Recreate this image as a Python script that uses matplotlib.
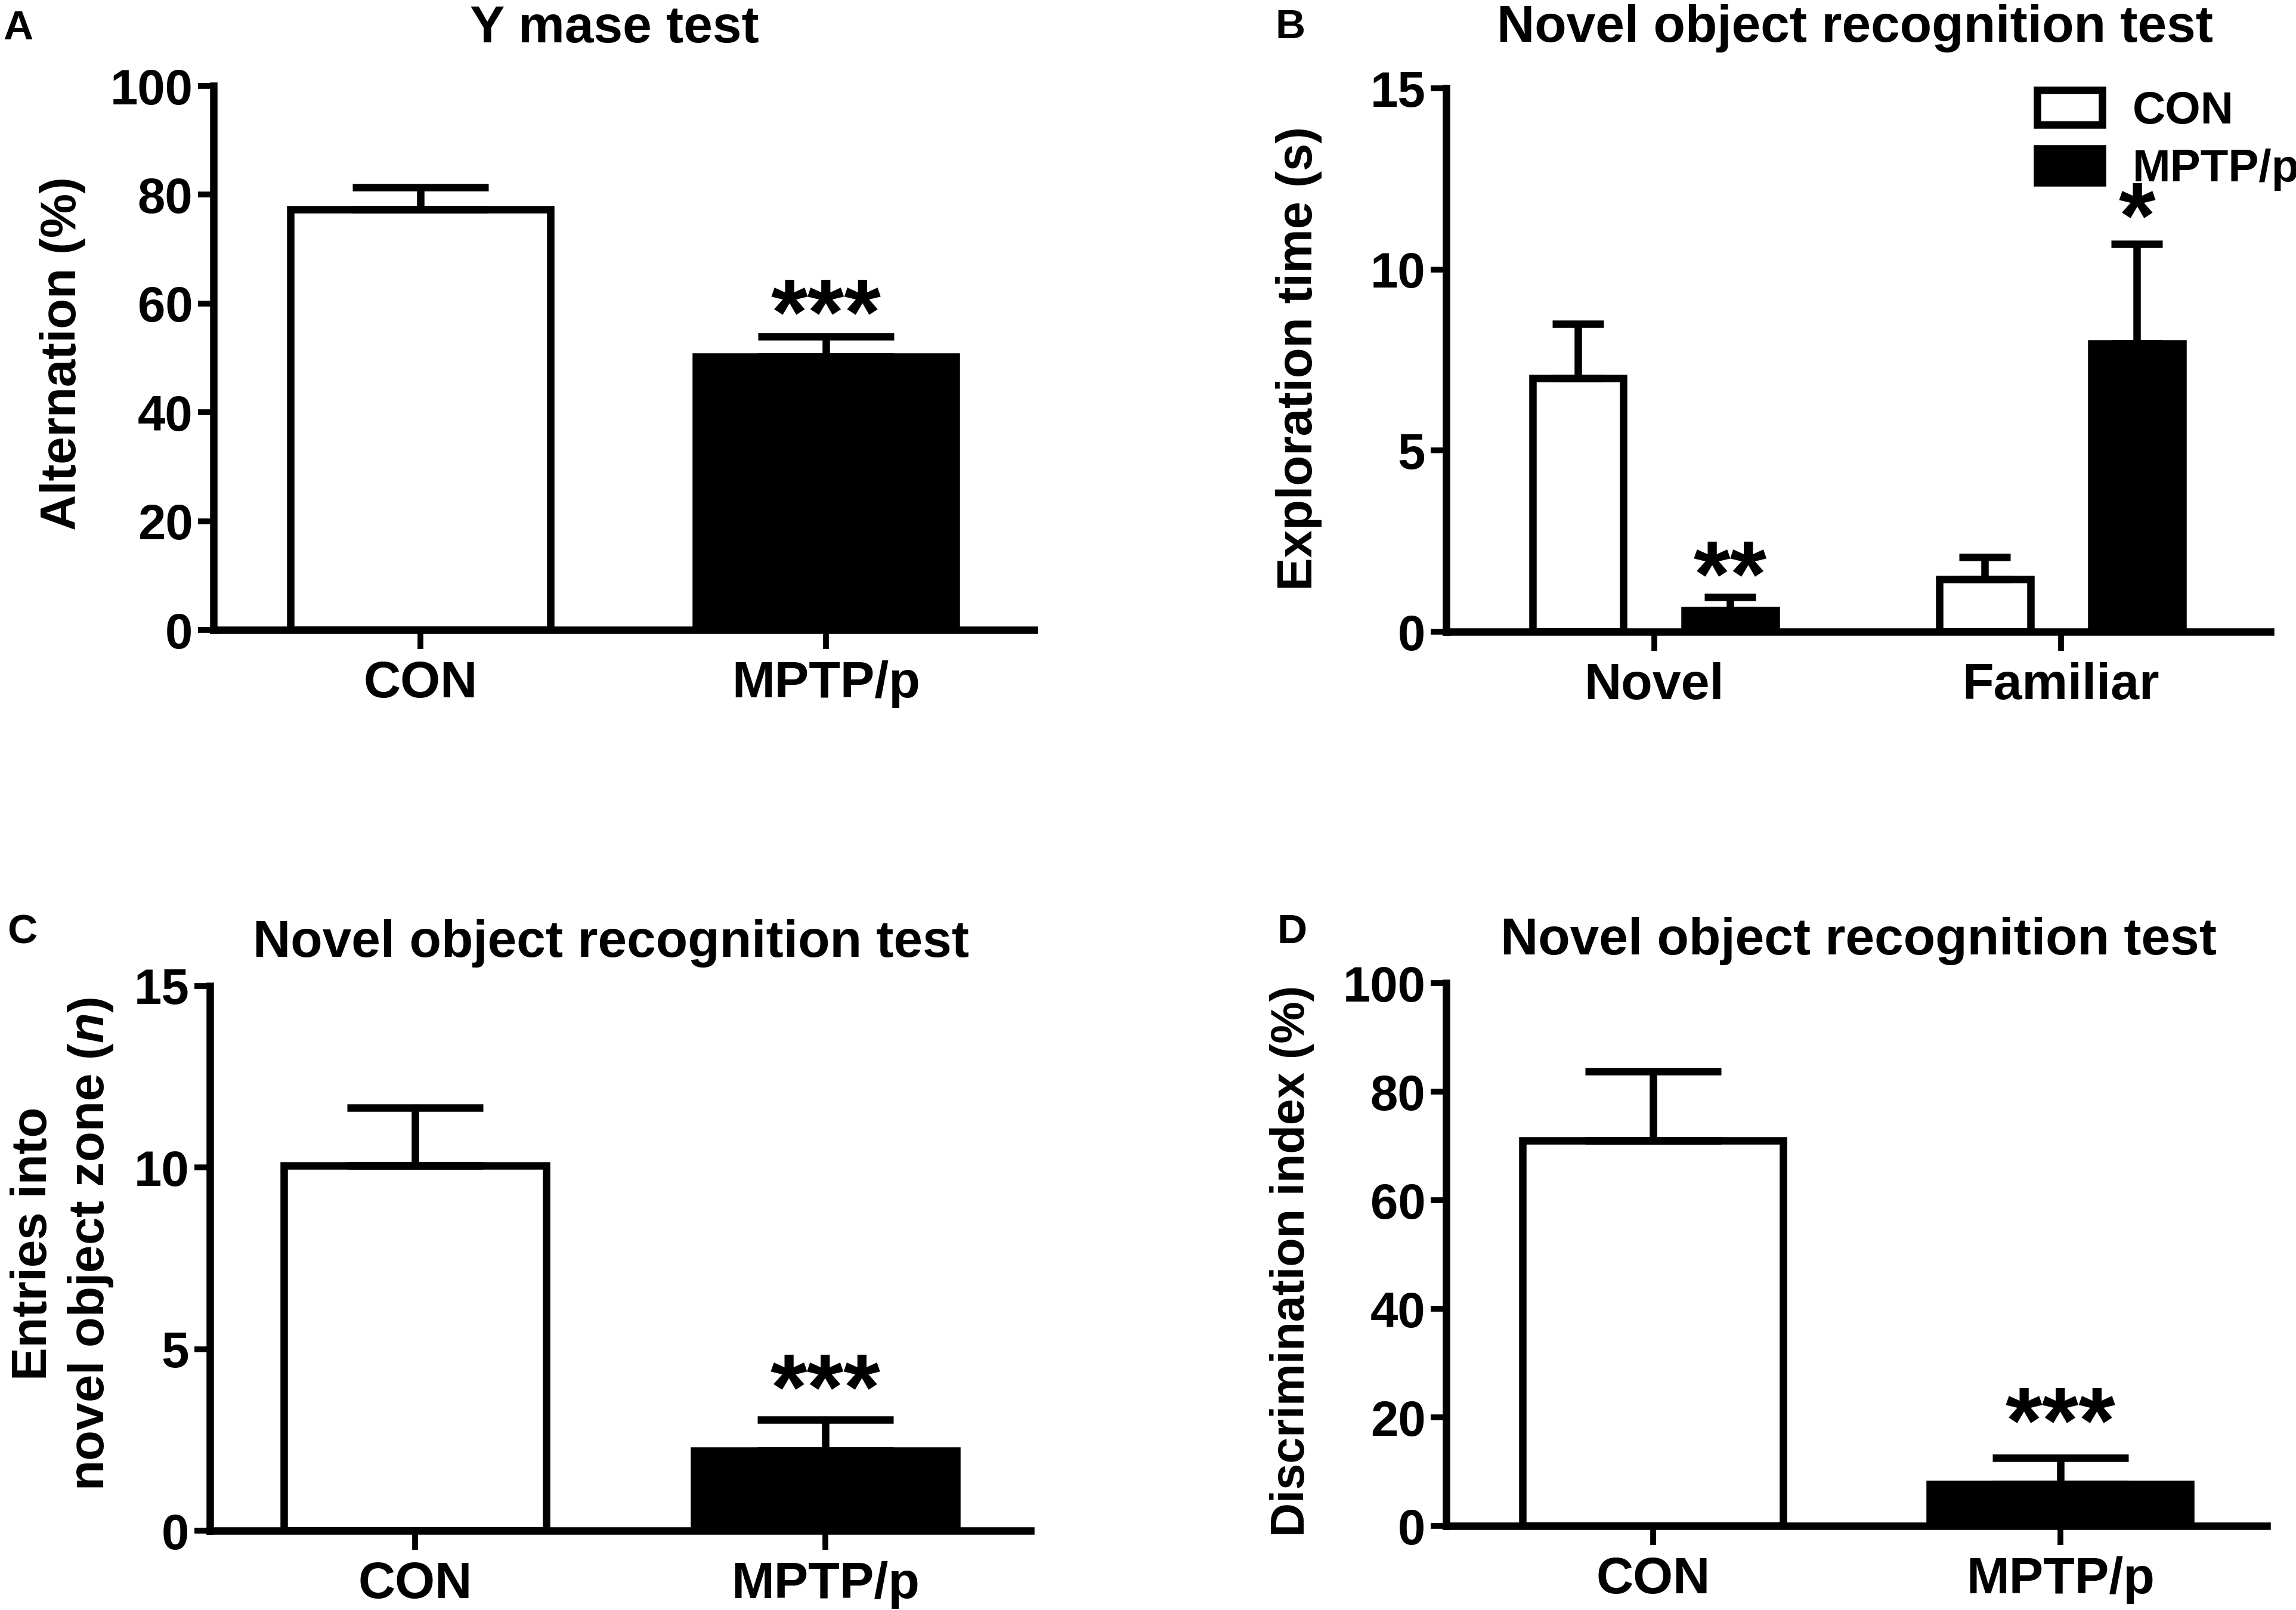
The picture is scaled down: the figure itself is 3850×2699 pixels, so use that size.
import matplotlib
matplotlib.use('Agg')
import matplotlib.pyplot as plt
import numpy as np

# ---- data ----
groups = ['CON', 'MPTP/p']

# A: Y maze
ymaze_mean = [77.3, 50.2]
ymaze_sem = [4.1, 3.7]
ymaze_stars = ['', '***']
ymaze_star_y = [0, 60.5]

# B: exploration time, grouped by object
objects = ['Novel', 'Familiar']
explore_con = [7.0, 1.45]
explore_con_sem = [1.5, 0.6]
explore_mptp = [0.6, 7.95]
explore_mptp_sem = [0.35, 2.75]
explore_stars = ['**', '*']
explore_star_y = [1.9, 11.8]

# C: entries into novel object zone
entries_mean = [10.05, 2.2]
entries_sem = [1.6, 0.85]
entries_stars = ['', '***']
entries_star_y = [0, 4.27]

# D: discrimination index
disc_mean = [71.0, 7.7]
disc_sem = [12.7, 4.8]
disc_stars = ['', '***']
disc_star_y = [0, 21.5]

W, H = 3850, 2699
DPI = 100

plt.rcParams['font.family'] = ['Liberation Sans', 'DejaVu Sans']
plt.rcParams['font.weight'] = 'bold'
plt.rcParams['mathtext.fontset'] = 'custom'
plt.rcParams['mathtext.rm'] = 'Liberation Sans:bold'
plt.rcParams['mathtext.it'] = 'Liberation Sans:italic:bold'
plt.rcParams['mathtext.bf'] = 'Liberation Sans:bold'

LW = 9
YTICK_FS = 60
XTICK_FS = 62
TITLE_FS = 63
LABEL_FS = 60
STAR_FS = 114
LETTER_FS = 50

fig = plt.figure(figsize=(W / DPI, H / DPI), dpi=DPI)


def px(x, y):
	# pixel position (from top-left) to figure fraction
	return x / W, 1 - y / H


def style_axes(ax, ylim, yticks, xlim):
	ax.set_ylim(*ylim)
	ax.set_yticks(yticks)
	ax.set_xlim(*xlim)
	for s in ['top', 'right']:
		ax.spines[s].set_visible(False)
	for s in ['left', 'bottom']:
		ax.spines[s].set_linewidth(LW)
	ax.tick_params(axis='y', length=19, width=7, pad=6, labelsize=YTICK_FS)
	ax.tick_params(axis='x', length=23, width=7, pad=14, labelsize=XTICK_FS)
	ax.patch.set_visible(False)


def stars(ax, xs, ys, labels):
	for x, y, s in zip(xs, ys, labels):
		if s:
			ax.annotate(s, xy=(x, y), xytext=(0, -0.46 * STAR_FS), textcoords='offset points',
						ha='center', va='baseline', fontsize=STAR_FS, fontweight='bold')


def two_bar(rect, means, sems, ylim, yticks, xlim, width):
	ax = fig.add_axes(rect)
	x = np.arange(len(groups))
	ax.bar(x, means, width=width, color=['white', 'black'], edgecolor='black', linewidth=LW)
	ax.errorbar(x, means, yerr=[np.zeros(len(means)), sems], fmt='none', ecolor='black',
				elinewidth=LW, capsize=82, capthick=LW)
	ax.set_xticks(x)
	ax.set_xticklabels(groups)
	style_axes(ax, ylim, yticks, xlim)
	return ax


# A
axA = two_bar([358 / W, 1 - 1056 / H, 1376 / W, 912 / H], ymaze_mean, ymaze_sem,
			  (0, 100), [0, 20, 40, 60, 80, 100], (-0.51, 1.513), 0.64)
stars(axA, [0, 1], ymaze_star_y, ymaze_stars)

# B
axB = fig.add_axes([2425 / W, 1 - 1059 / H, 1382 / W, 911 / H])
xb = np.arange(len(objects))
off = 0.187
bw = 0.224
b1 = axB.bar(xb - off, explore_con, width=bw, color='white', edgecolor='black', linewidth=LW, label='CON')
b2 = axB.bar(xb + off, explore_mptp, width=bw, color='black', edgecolor='black', linewidth=LW, label='MPTP/p')
axB.errorbar(xb - off, explore_con, yerr=[np.zeros(2), explore_con_sem], fmt='none', ecolor='black',
			 elinewidth=LW, capsize=31, capthick=LW)
axB.errorbar(xb + off, explore_mptp, yerr=[np.zeros(2), explore_mptp_sem], fmt='none', ecolor='black',
			 elinewidth=LW, capsize=31, capthick=LW)
axB.set_xticks(xb)
axB.set_xticklabels(objects)
style_axes(axB, (0, 15), [0, 5, 10, 15], (-0.511, 1.515))
stars(axB, xb + off, explore_star_y, explore_stars)
axB.legend(handles=[b1, b2], loc='upper left', bbox_to_anchor=px(3416, 151),
		   bbox_transform=fig.transFigure, frameon=False, fontsize=55,
		   handlelength=1.43, handleheight=0.79, handletextpad=0.66, labelspacing=0.34,
		   borderpad=0, borderaxespad=0)

# C
axC = two_bar([352 / W, 1 - 2566 / H, 1376 / W, 913 / H], entries_mean, entries_sem,
			  (0, 15), [0, 5, 10, 15], (-0.50, 1.50), 0.64)
stars(axC, [0, 1], entries_star_y, entries_stars)

# D
axD = two_bar([2425 / W, 1 - 2558 / H, 1376 / W, 910 / H], disc_mean, disc_sem,
			  (0, 100), [0, 20, 40, 60, 80, 100], (-0.508, 1.507), 0.64)
stars(axD, [0, 1], disc_star_y, disc_stars)

# titles
for (x, y), t in zip([(1030, 48), (3110, 48), (1024, 1581), (3116, 1577)],
					 ['Y mase test', 'Novel object recognition test',
					  'Novel object recognition test', 'Novel object recognition test']):
	fig.text(*px(x, y), t, ha='center', va='center', fontsize=TITLE_FS, fontweight='bold')

# panel letters
for (x, y), t in zip([(30, 48), (2163, 46), (37, 1563), (2166, 1563)], ['A', 'B', 'C', 'D']):
	fig.text(*px(x, y), t, ha='center', va='center', fontsize=LETTER_FS, fontweight='bold')

# y labels
fig.text(*px(105, 593), 'Alternation (%)', rotation=90, ha='center', va='center',
		 fontsize=LABEL_FS, fontweight='bold')
fig.text(*px(2178, 601), 'Exploration time (s)', rotation=90, ha='center', va='center',
		 fontsize=LABEL_FS, fontweight='bold')
fig.text(*px(105, 2085), 'Entries into\nnovel object zone ($n$)', rotation=90, ha='center',
		 va='center', multialignment='center', linespacing=1.25,
		 fontsize=LABEL_FS, fontweight='bold')
fig.text(*px(2166, 2114), 'Discrimination index (%)', rotation=90, ha='center', va='center',
		 fontsize=57, fontweight='bold')

fig.savefig('out.png', dpi=DPI, facecolor='white')
